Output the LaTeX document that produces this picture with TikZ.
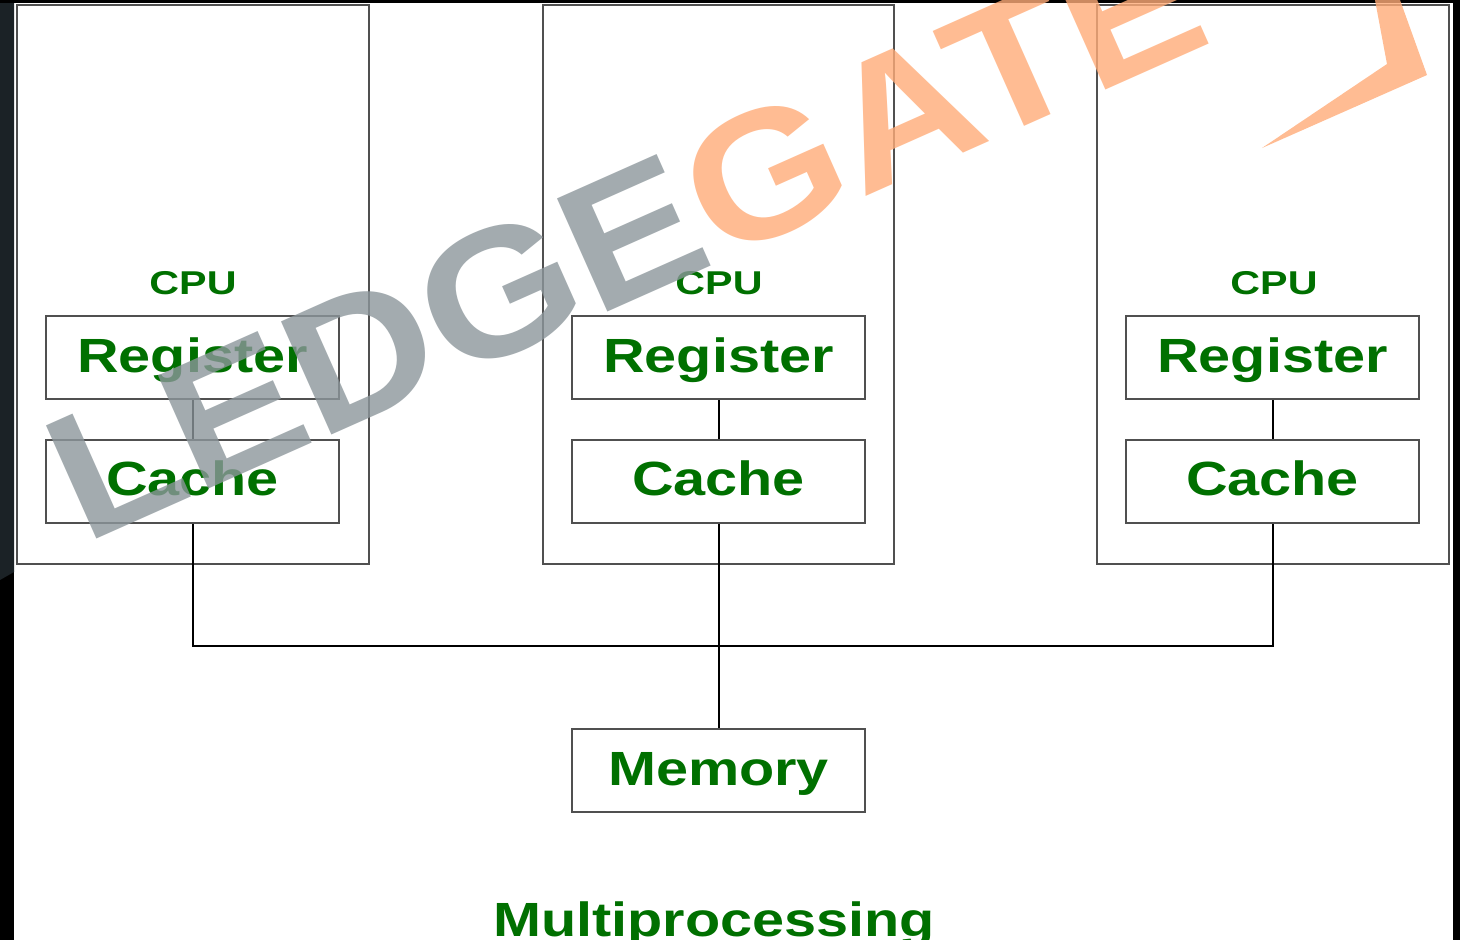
\documentclass[tikz,border=0pt]{standalone}
\usepackage{fontspec}
\setmainfont{Liberation Sans}
\usepackage{graphicx}
\definecolor{boxgray}{RGB}{80,80,80}
\definecolor{dgreen}{RGB}{0,112,0}
\definecolor{wmgray}{RGB}{140,150,155}
\definecolor{wmorange}{RGB}{255,172,120}
\definecolor{slate}{RGB}{27,34,38}
\begin{document}
\begin{tikzpicture}[x=1pt,y=-1pt,
  cpubox/.style={draw=boxgray, line width=2pt, minimum height=559pt, inner sep=0pt},
  unitbox/.style={draw=boxgray, line width=2pt, fill=white, minimum width=293pt, minimum height=83pt,
    inner sep=0pt, text=dgreen, font=\bfseries\fontsize{48}{48}\selectfont, text height=32pt, text depth=3pt},
  cpulabel/.style={text=dgreen, font=\bfseries\fontsize{33}{33}\selectfont, anchor=base, inner sep=0pt},
  wire/.style={draw=black, line width=2pt},
  wm/.style={anchor=base west, rotate=24, inner sep=0pt, font=\bfseries\fontsize{180}{180}\selectfont, text opacity=0.8}
]
\useasboundingbox (0,0) rectangle (1460,940);
\fill[white] (0,0) rectangle (1460,940);
% frame
\fill[black] (0,0) rectangle (14,940);
\fill[slate] (0,0) -- (14,0) -- (14,572) -- (0,580) -- cycle;
\fill[black] (0,0) rectangle (1460,3);
\fill[black] (1453,0) rectangle (1460,940);

% CPU boxes
\node[cpubox, minimum width=352pt] (cpu1) at (193,284.5) {};
\node[cpubox, minimum width=351pt] (cpu2) at (718.5,284.5) {};
\node[cpubox, minimum width=352pt] (cpu3) at (1273,284.5) {};
\node[cpulabel] (lbl1) at (193,294) {\scalebox{1.25}[1]{CPU}};
\node[cpulabel] (lbl2) at (719,294) {\scalebox{1.25}[1]{CPU}};
\node[cpulabel] (lbl3) at (1274,294) {\scalebox{1.25}[1]{CPU}};

% units
\node[unitbox] (reg1) at (192.5,357.5) {\scalebox{1.2}[1]{Register}};
\node[unitbox] (cache1) at (192.5,481) {\scalebox{1.2}[1]{Cache}};
\node[unitbox] (reg2) at (718.5,357.5) {\scalebox{1.2}[1]{Register}};
\node[unitbox] (cache2) at (718.5,481) {\scalebox{1.2}[1]{Cache}};
\node[unitbox] (reg3) at (1272.5,357.5) {\scalebox{1.2}[1]{Register}};
\node[unitbox] (cache3) at (1272.5,481) {\scalebox{1.2}[1]{Cache}};
\node[unitbox] (mem) at (718.5,770.5) {\scalebox{1.2}[1]{Memory}};

% connectors
\draw[wire] (reg1) -- (cache1);
\draw[wire] (reg2) -- (cache2);
\draw[wire] (reg3) -- (cache3);
\coordinate (bus) at (718.5,646);
\draw[wire] (cache1.south) |- (bus) -| (cache3.south);
\draw[wire] (cache2.south) -- (mem.north);

% title
\node[text=dgreen, font=\bfseries\fontsize{48}{48}\selectfont, anchor=base, inner sep=0pt] (title) at (714,936) {\scalebox{1.2}[1]{Multiprocessing}};

% watermark
\node[wm] (wmark) at (84,545) {\scalebox{1.12}[1]{\textcolor{wmgray}{LEDGE}\textcolor{wmorange}{GATE}}};
\fill[wmorange, opacity=0.8] (1375,0) -- (1400,0) -- (1427,75) -- (1262,148) -- (1387,64) -- cycle;
\end{tikzpicture}
\end{document}
